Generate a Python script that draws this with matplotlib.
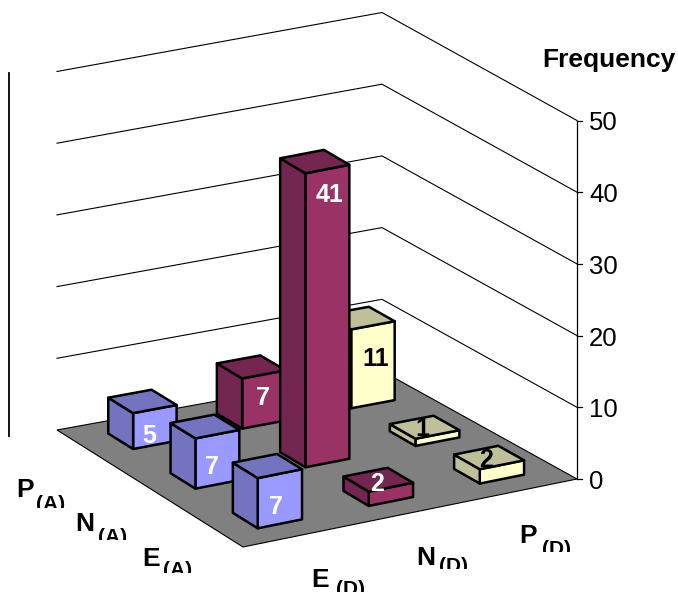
import matplotlib
matplotlib.use("Agg")
import matplotlib.pyplot as plt
from matplotlib.patches import Polygon
from matplotlib.transforms import Bbox

plt.rcParams["font.family"] = ["Liberation Sans", "DejaVu Sans"]

# rows run along the A axis (E, N, P), columns along the D axis (E, N, P)
d_labels = ["E", "N", "P"]
a_labels = ["E", "N", "P"]
freq = [
    [7, 2, 2],
    [7, 41, 1],
    [5, 7, 11],
]
z_ticks = [0, 10, 20, 30, 40, 50]

front_colors = ["#9999FF", "#993366", "#FFFFCC"]
dark_colors = ["#7373BF", "#732650", "#BFBF99"]
text_colors = ["white", "white", "black"]

# where the value label sits relative to the centre of the bar top, pixels
label_nudge = {
    (0, 0): (8, 41), (0, 1): (-1, 4), (0, 2): (-3, 3),
    (1, 0): (7, 40), (1, 1): (15, 33), (1, 2): (-2, 2),
    (2, 0): (7, 35), (2, 1): (12, 31), (2, 2): (16, 41),
}

# floor corners on screen: front, right, back, left
FRONT = (243, 547)
RIGHT = (577, 479)
BACK = (382, 371)
LEFT = (57, 430)
PX_PER_UNIT = 7.17
BAR_W = 0.133
GAP = 0.1
BAR_LIFT = 0.4  # far bars sit a touch higher than the flat floor gives


def project(u, v, z=0):
    w = [(1 - u) * (1 - v), u * (1 - v), u * v, (1 - u) * v]
    corners = [FRONT, RIGHT, BACK, LEFT]
    x = sum(a * c[0] for a, c in zip(w, corners))
    y = sum(a * c[1] for a, c in zip(w, corners))
    return x, y - z * PX_PER_UNIT


fig = plt.figure(figsize=(6.78, 5.93), dpi=100)
ax = fig.add_axes([0, 0, 1, 1])
ax.set_xlim(0, 678)
ax.set_ylim(593, 0)
ax.axis("off")

# floor
floor = [project(0, 0), project(1, 0), project(1, 1), project(0, 1)]
ax.add_patch(Polygon(floor, closed=True, facecolor="#808080", edgecolor="black", lw=0.8, zorder=1))

# wall grid lines
for z in z_ticks[1:]:
    pts = [project(0, 1, z), project(1, 1, z), project(1, 0, z)]
    ax.plot([p[0] for p in pts], [p[1] for p in pts], color="black", lw=0.8, zorder=1)

# value axis
x0, y0 = project(1, 0, 0)
x1, y1 = project(1, 0, z_ticks[-1])
ax.plot([x0, x1], [y0, y1], color="black", lw=0.9, zorder=1)
for z in z_ticks:
    tx, ty = project(1, 0, z)
    ax.plot([tx, tx + 5], [ty, ty], color="black", lw=0.9, zorder=1)
    ax.text(tx + 12, ty + 3, str(z), fontsize=18.5, ha="left", va="center", color="black")

ax.plot([9, 9], [73, 436], color="black", lw=1.3, zorder=1)

# bars, far ones first
z_order = 2
for i in range(2, -1, -1):
    for j in range(2, -1, -1):
        h = freq[i][j]
        u0 = j / 3 + GAP
        v0 = i / 3 + GAP
        u1 = u0 + BAR_W
        v1 = v0 + BAR_W
        lift = BAR_LIFT * v0
        front = [project(u0, v0, lift), project(u1, v0, lift),
                 project(u1, v0, h + lift), project(u0, v0, h + lift)]
        side = [project(u0, v0, lift), project(u0, v1, lift),
                project(u0, v1, h + lift), project(u0, v0, h + lift)]
        top = [project(u0, v0, h + lift), project(u1, v0, h + lift),
               project(u1, v1, h + lift), project(u0, v1, h + lift)]
        for poly, col in ((front, front_colors[j]), (side, dark_colors[j]), (top, dark_colors[j])):
            ax.add_patch(Polygon(poly, closed=True, facecolor=col, edgecolor="black",
                                 lw=1.8, joinstyle="round", zorder=z_order))
        z_order += 1

for i in range(3):
    for j in range(3):
        h = freq[i][j]
        lift = BAR_LIFT * (i / 3 + GAP)
        cx, cy = project(j / 3 + GAP + BAR_W / 2, i / 3 + GAP + BAR_W / 2, h + lift)
        dx, dy = label_nudge[(i, j)]
        ax.text(cx + dx, cy + dy, str(h), fontsize=18, fontweight="bold", color=text_colors[j],
                ha="center", va="center", zorder=30)

ax.text(676, 60, "Frequency", fontsize=19, fontweight="bold", ha="right", va="center")


def axis_label(letter, sub, x, base_y, sub_x, sub_base, clip_y):
    ax.text(x, base_y, letter, fontsize=19, fontweight="bold", ha="left", va="baseline")
    t = ax.text(sub_x, sub_base, sub, fontsize=15, fontweight="bold", ha="left", va="baseline")
    box = Bbox([[sub_x - 5, 593 - clip_y], [sub_x + 40, 593 - clip_y + 30]])
    t.set_clip_box(box)
    t.set_clip_on(True)


axis_label(a_labels[2], "(A)", 16, 497, 36, 510, 507.5)
axis_label(a_labels[1], "(A)", 75, 531, 98, 543, 540)
axis_label(a_labels[0], "(A)", 142, 566, 163, 576, 573)
axis_label(d_labels[0], "(D)", 311, 587, 336, 595, 592)
axis_label(d_labels[1], "(D)", 416, 565, 439, 572, 569)
axis_label(d_labels[2], "(D)", 519, 543, 542, 555, 552)

fig.savefig("out.png", dpi=100)
plt.close(fig)
